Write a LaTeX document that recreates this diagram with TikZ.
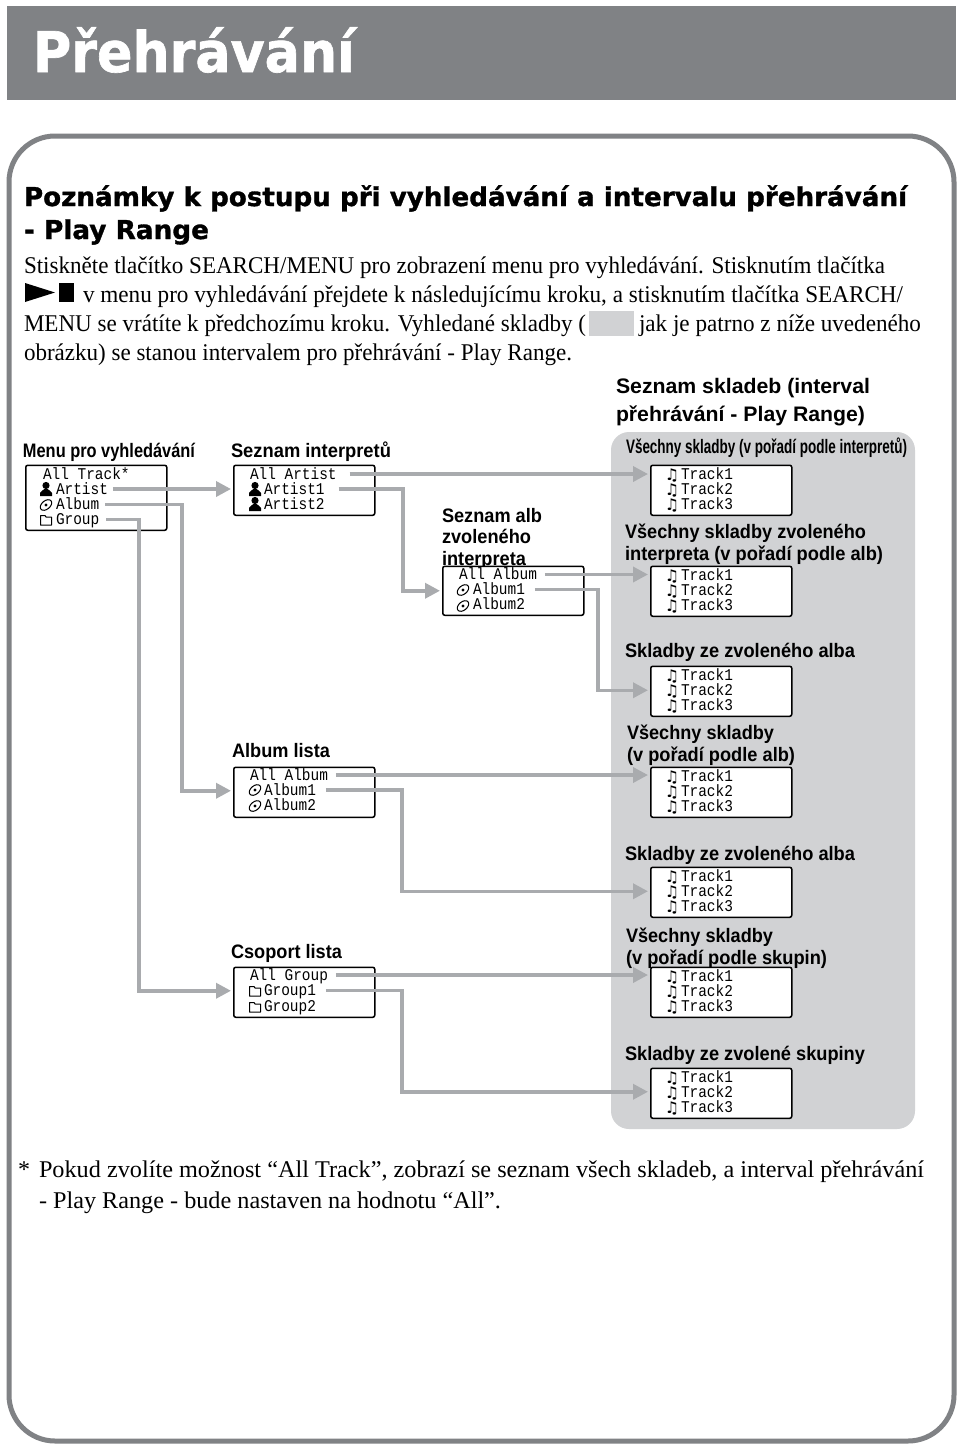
\documentclass[tikz,border=0pt]{standalone}
\usepackage{fontspec}
\usepackage{graphicx}
\usetikzlibrary{arrows.meta}
\setmainfont{Liberation Serif}
\newfontfamily\labfont{Liberation Sans}[BoldFont={Liberation Sans Bold}]
\newfontfamily\headfont{DejaVu Sans Bold}[FakeBold=1.2]
\newfontfamily\lcdfont{Liberation Mono}[FakeStretch=0.88]
\newfontfamily\symfont{DejaVu Sans Bold}
\definecolor{bandgray}{HTML}{808285}
\definecolor{framegray}{HTML}{808285}
\definecolor{panelgray}{HTML}{D1D2D4}
\definecolor{conngray}{HTML}{A9ABAE}
\newcommand\fw[2]{\resizebox{#1pt}{\height}{#2}}
\tikzset{
  x=1pt,y=-1pt,
  lab/.style={anchor=base west,inner sep=0pt,outer sep=0pt,text=black},
  body/.style={lab,font=\fontsize{24}{28}\selectfont},
  sans/.style={lab,font=\labfont\bfseries\fontsize{19.5}{24}\selectfont},
  head/.style={lab,font=\headfont\fontsize{26}{30}\selectfont},
  lcdbox/.style={draw=black,line width=1.5pt,fill=white,rounded corners=2pt,inner sep=0pt,minimum width=141pt,anchor=north west},
  lcd/.style={anchor=west,inner sep=0pt,outer sep=0pt,text height=10pt,text depth=0pt,font=\lcdfont\fontsize{16.4}{18}\selectfont},
  note/.style={anchor=center,inner sep=0pt,font=\symfont\fontsize{16}{16}\selectfont},
  conn/.style={draw=conngray,line width=3.5pt,-{Triangle[length=15pt,width=15pt]},shorten >=2pt},
  personicon/.pic={\fill[black] (0,-3.5) circle[radius=3.6];
    \fill[black] (-6,7) -- (-6,4) .. controls (-5,1.5) and (-2,1) .. (-1.5,0) -- (1.5,0) .. controls (2,1) and (5,1.5) .. (6,4) -- (6,7) -- cycle;},
  discicon/.pic={\draw[black,line width=1pt,rotate=40] (0,0) ellipse[x radius=6.6,y radius=4.2];
    \fill[black] (0,0) circle[radius=1.6];},
  foldericon/.pic={\draw[black,line width=1pt,line join=round] (-5.5,-4.5) -- (-1,-4.5) -- (0,-3) -- (5.5,-3) -- (5.5,5) -- (-5.5,5) -- cycle;},
}
\newcommand\trackbox[2]{%
  \node[lcdbox,minimum height=50pt] (tb#1) at (650,#2-0.5) {};
  \node[lcd] (tb#1a) at (681,#2+9) {Track1};
  \node[lcd] (tb#1b) at (681,#2+24) {Track2};
  \node[lcd] (tb#1c) at (681,#2+39) {Track3};
  \node[note] (nb#1a) at (672,#2+10) {♫};
  \node[note] (nb#1b) at (672,#2+25) {♫};
  \node[note] (nb#1c) at (672,#2+40) {♫};
}
\begin{document}
\begin{tikzpicture}
\useasboundingbox (0,0) rectangle (960,1445);
\fill[white] (0,0) rectangle (960,1445);
% title band
\fill[bandgray] (7,6) rectangle (956,100);
\node[lab,text=white,font=\headfont\fontsize{56}{60}\selectfont] (title) at (33,72) {\fw{322}{Přehrávání}};
% frame
\draw[framegray,line width=5pt,rounded corners=46pt] (9,136) rectangle (954,1441);
% heading
\node[head] (h1) at (24,206) {\fw{883}{Poznámky k postupu při vyhledávání a intervalu přehrávání}};
\node[head] (h2) at (24,239) {\fw{185}{- Play Range}};
% body
\node[body] (b1) at (24,273) {\fw{861}{Stiskněte tlačítko SEARCH/MENU pro zobrazení menu pro vyhledávání. Stisknutím tlačítka}};
\fill[black] (25,283) -- (55,292.5) -- (25,302) -- cycle;
\fill[black] (59,283) rectangle (74,302);
\node[body] (b2) at (83,302) {\fw{820}{v menu pro vyhledávání přejdete k následujícímu kroku, a stisknutím tlačítka SEARCH/}};
\node[body] (b3) at (24,331) {\fw{562}{MENU se vrátíte k předchozímu kroku. Vyhledané skladby (}};
\fill[panelgray] (589,311) rectangle (634,336);
\node[body] (b3b) at (639,331) {\fw{282}{jak je patrno z níže uvedeného}};
\node[body] (b4) at (24,360) {\fw{548}{obrázku) se stanou intervalem pro přehrávání - Play Range.}};
% panel
\fill[panelgray,rounded corners=18pt] (611,432) rectangle (915,1129);
% labels
\node[sans,font=\labfont\bfseries\fontsize{21}{24}\selectfont] (s1) at (616,393) {\fw{254}{Seznam skladeb (interval}};
\node[sans,font=\labfont\bfseries\fontsize{21}{24}\selectfont] (s2) at (616,421) {\fw{249}{přehrávání - Play Range)}};
\node[sans] (l1) at (23,457) {\fw{172}{Menu pro vyhledávání}};
\node[sans] (l2) at (231,457) {\fw{160}{Seznam interpretů}};
\node[sans] (l3) at (442,522) {\fw{100}{Seznam alb}};
\node[sans] (l4) at (442,543) {\fw{89}{zvoleného}};
\node[sans] (l5) at (442,565) {\fw{84}{interpreta}};
\node[sans] (l6) at (626,453) {\fw{281}{Všechny skladby (v pořadí podle interpretů)}};
\node[sans] (l7) at (625,538) {\fw{241}{Všechny skladby zvoleného}};
\node[sans] (l8) at (625,560) {\fw{258}{interpreta (v pořadí podle alb)}};
\node[sans] (l9) at (625,657) {\fw{230}{Skladby ze zvoleného alba}};
\node[sans] (l10) at (627,739) {\fw{147}{Všechny skladby}};
\node[sans] (l11) at (627,761) {\fw{168}{(v pořadí podle alb)}};
\node[sans] (l12) at (625,860) {\fw{230}{Skladby ze zvoleného alba}};
\node[sans] (l13) at (626,942) {\fw{147}{Všechny skladby}};
\node[sans] (l14) at (626,964) {\fw{201}{(v pořadí podle skupin)}};
\node[sans] (l15) at (625,1060) {\fw{240}{Skladby ze zvolené skupiny}};
\node[sans] (l16) at (232,757) {\fw{98}{Album lista}};
\node[sans] (l17) at (231,958) {\fw{111}{Csoport lista}};
% boxes
\node[lcdbox,minimum height=65pt] (menu) at (25,464.5) {};
\node[lcdbox,minimum height=50pt] (artists) at (233,464.5) {};
\node[lcdbox,minimum height=49pt] (albums) at (442,565.5) {};
\node[lcdbox,minimum height=50pt] (alblist) at (233,766.5) {};
\node[lcdbox,minimum height=50pt] (grplist) at (233,966.5) {};
\trackbox{1}{465}
\trackbox{2}{566}
\trackbox{3}{666}
\trackbox{4}{767}
\trackbox{5}{867}
\trackbox{6}{967}
\trackbox{7}{1068}
% lcd lines
\node[lcd] (mall) at (43,474) {All Track*};
\node[lcd] (mart) at (56,489) {Artist};
\node[lcd] (malb) at (56,504.5) {Album};
\node[lcd] (mgrp) at (56,519.5) {Group};
\pic at (46,489) {personicon};
\pic at (46,505) {discicon};
\pic at (46,520) {foldericon};
\node[lcd] (aall) at (250,474) {All Artist};
\node[lcd] (aone) at (264,489) {Artist1};
\node[lcd] (atwo) at (264,504) {Artist2};
\pic at (255,489) {personicon};
\pic at (255,504) {personicon};
\node[lcd] (sall) at (459,574.5) {All Album};
\node[lcd] (sone) at (473,589.5) {Album1};
\node[lcd] (stwo) at (473,604.5) {Album2};
\pic at (463,590) {discicon};
\pic at (463,606) {discicon};
\node[lcd] (lall) at (250,775) {All Album};
\node[lcd] (lone) at (264,790) {Album1};
\node[lcd] (ltwo) at (264,805) {Album2};
\pic at (255,790) {discicon};
\pic at (255,806) {discicon};
\node[lcd] (gall) at (250,975) {All Group};
\node[lcd] (gone) at (264,990.5) {Group1};
\node[lcd] (gtwo) at (264,1006) {Group2};
\pic at (255,991) {foldericon};
\pic at (255,1007) {foldericon};
% bend coordinates
\coordinate (c1) at (182,600);
\coordinate (c2) at (139,600);
\coordinate (c3) at (403,540);
\coordinate (c4) at (598,640);
\coordinate (c5) at (402,840);
\coordinate (c6) at (402,1040);
% connectors
\draw[conn] ([xshift=5pt]mart.east) -- (mart.east -| artists.west);
\draw[conn] ([xshift=6pt]malb.east) -| (c1) |- ([yshift=1.5pt]alblist.west);
\draw[conn] ([xshift=7pt]mgrp.east) -| (c2) |- ([yshift=1.5pt]grplist.west);
\draw[conn] ([xshift=13pt]aall.east) -- (aall.east -| tb1.west);
\draw[conn] ([xshift=14pt]aone.east) -| (c3) |- (albums.west);
\draw[conn] ([xshift=8pt]sall.east) -- (sall.east -| tb2.west);
\draw[conn] ([xshift=10pt]sone.east) -| (c4) |- ([yshift=1pt]tb3.west);
\draw[conn] ([xshift=8pt]lall.east) -- (lall.east -| tb4.west);
\draw[conn] ([xshift=10pt]lone.east) -| (c5) |- ([yshift=1pt]tb5.west);
\draw[conn] ([xshift=8pt]gall.east) -- (gall.east -| tb6.west);
\draw[conn] ([xshift=10pt]gone.east) -| (c6) |- ([yshift=1.5pt]tb7.west);
% footnote
\node[body] (fstar) at (18,1177) {\fw{12}{*}};
\node[body] (f1) at (39,1177) {\fw{885}{Pokud zvolíte možnost “All Track”, zobrazí se seznam všech skladeb, a interval přehrávání}};
\node[body] (f2) at (39,1208) {\fw{462}{- Play Range - bude nastaven na hodnotu “All”.}};
\end{tikzpicture}
\end{document}
